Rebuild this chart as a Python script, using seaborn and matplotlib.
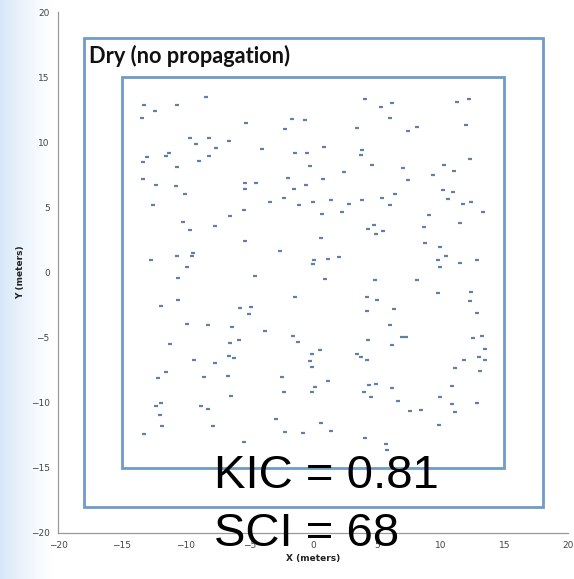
import numpy as np
import pandas as pd
import matplotlib
matplotlib.use("Agg")
import matplotlib.pyplot as plt
from matplotlib.patches import Rectangle
from matplotlib.colors import LinearSegmentedColormap
import seaborn as sns

# ---- data ----
x_vals = [
    -8.37, -13.23, -10.69, -12.37, -13.39, -5.28, -1.65, -0.60, -2.20, -9.67,
    -8.18, -9.15, -6.56, -7.63, -3.97, -12.99, -11.27, -11.56, -8.13, -1.44,
    -0.47, -13.36, -8.92, -10.67, -0.21, -13.36, -12.31, -10.77, -5.31, -4.47,
    -1.99, -5.31, -1.52, -0.52, -10.04, -12.58, -3.37, -2.30, -1.10, 0.00,
    -5.44, -6.48, -10.20, -9.62, -7.69, -5.36, -2.61, -12.71, -10.67, -9.39,
    -9.46, -9.88, 0.05, 0.03,
    4.08, 5.31, 6.22, 6.04, 3.48, 7.45, 8.18, 11.32, 12.24, 12.03,
    0.86, 3.82, 3.79, 12.34, 4.63, 2.41, 7.06, 10.25, 11.06, 9.41,
    0.76, 7.48, 10.17, 10.98, 6.46, 5.44, 10.56, 1.39, 3.84, 2.85,
    6.04, 11.76, 12.39, 13.36, 0.68, 2.25, 9.12, 4.81, 4.31, 4.92,
    5.52, 8.68, 11.50, 0.65, 8.76, 9.96, 1.20, 2.01, 10.41, 9.78,
    9.93, 11.50, 12.84,
    -10.61, -4.52, -10.59, -11.92, -1.44, -5.75, -4.89, -4.99, -9.88, -8.26,
    -6.35, -3.76, -1.57, -1.15, -11.24, -6.54, -5.78, -0.05, -0.24, -0.08,
    -6.59, -6.20, -9.31, -7.66, -11.53, -12.16, -8.58, -6.64, -2.43, -2.30,
    -0.10, 0.16, -6.43, -11.95, -12.29, -8.78, -8.21, -12.03, -11.82, -7.82,
    -2.90, -13.28, -2.17, -0.81, -5.41,
    0.94, 4.86, 8.13, 9.83, 12.39, 12.34, 4.24, 5.02, 4.21, 6.38,
    12.84, 6.04, 6.95, 7.30, 4.31, 6.20, 12.52, 13.28, 0.58, 3.48, 3.79,
    4.24, 13.46, 13.02, 13.52, 11.82, 11.16, 13.07, 1.18, 4.37, 4.94,
    4.00, 6.20, 4.55, 10.93, 6.69, 7.58, 8.47, 9.96, 10.93, 11.11,
    12.89, 0.63, 1.39, 9.88, 4.08, 5.70, 5.80,
]
y_vals = [
    13.44, 12.83, 12.83, 12.42, 11.88, 11.47, 11.75, 11.70, 11.01, 10.32,
    10.30, 9.84, 10.09, 9.55, 9.50, 8.89, 9.20, 8.92, 8.94, 9.15,
    9.15, 8.45, 8.56, 8.07, 8.15, 7.18, 6.72, 6.61, 6.87, 6.84,
    7.23, 6.41, 6.41, 6.72, 6.02, 5.21, 5.41, 5.74, 5.15, 5.44,
    4.77, 4.36, 3.88, 3.29, 3.54, 2.44, 1.68, 0.96, 1.27, 1.47,
    1.29, 0.40, 0.96, 0.65,
    13.32, 12.68, 12.98, 11.83, 11.12, 10.89, 11.14, 13.06, 13.34, 11.32,
    9.63, 9.38, 8.99, 8.74, 8.25, 7.71, 8.02, 8.28, 7.82, 7.48,
    7.18, 7.10, 6.36, 6.15, 6.05, 5.74, 5.67, 5.54, 5.56, 5.26,
    5.21, 5.28, 5.41, 4.67, 4.46, 4.67, 4.41, 3.65, 3.34, 2.98,
    3.21, 3.47, 3.77, 2.62, 2.24, 1.96, 1.04, 1.21, 1.29, 0.93,
    0.45, 0.75, 0.96,
    -0.45, -0.27, -2.09, -2.55, -1.88, -2.70, -2.67, -3.18, -3.98, -4.05,
    -4.18, -4.49, -4.87, -5.36, -5.49, -5.44, -5.21, -6.25, -6.77, -7.25,
    -6.43, -6.54, -6.74, -6.95, -7.66, -8.10, -8.02, -7.92, -8.02, -9.20,
    -9.15, -8.81, -9.48, -9.99, -10.27, -10.27, -10.45, -10.94, -11.78, -11.81,
    -11.27, -12.39, -12.27, -12.32, -13.03,
    -0.50, -0.55, -0.55, -1.60, -1.47, -2.19, -1.91, -2.11, -2.98, -2.78,
    -3.13, -4.00, -4.92, -4.92, -5.15, -5.56, -5.00, -4.85, -5.92, -6.23, -6.51,
    -6.72, -5.90, -6.51, -6.72, -6.72, -7.33, -7.56, -8.30, -8.63, -8.56,
    -9.15, -8.84, -9.58, -8.71, -9.89, -10.65, -10.58, -9.58, -10.07, -10.71,
    -10.02, -11.52, -12.14, -11.73, -12.73, -13.14, -13.60,
]

outer_half = 18
inner_half = 15
x_ticks = [-20, -15, -10, -5, 0, 5, 10, 15, 20]
y_ticks = [-20, -15, -10, -5, 0, 5, 10, 15, 20]
title_text = "Dry (no propagation)"
kic_text = "KIC = 0.81"
sci_text = "SCI = 68"
x_label = "X (meters)"
y_label = "Y (meters)"

df = pd.DataFrame({"x": x_vals, "y": y_vals})

sns.set_theme(style="white")
plt.rcParams["font.family"] = ["DejaVu Sans"]

fig = plt.figure(figsize=(5.74, 5.79), dpi=100)
fig.patch.set_facecolor("white")

# left light-blue slide background strip
bg = fig.add_axes([0, 0, 0.09, 1], zorder=-5)
grad = np.linspace(0, 1, 256).reshape(1, -1)
cmap = LinearSegmentedColormap.from_list(
    "bg", [(0.0, "#d6e6f9"), (0.3, "#e6f0fb"), (0.7, "#f6f9fe"), (1.0, "#ffffff")])
bg.imshow(grad, aspect="auto", cmap=cmap, extent=[0, 1, 0, 1])
bg.axis("off")

ax = fig.add_axes([58 / 574, 1 - 533 / 579, 510 / 574, 521 / 579])
ax.set_facecolor("none")

pt_color = "#5f80a8"
sns.scatterplot(data=df, x="x", y="y", ax=ax, marker="_", s=10,
                color=pt_color, linewidth=1.6, legend=False, zorder=3)

rect_color = "#6f9cc8"
for h in (outer_half, inner_half):
    ax.add_patch(Rectangle((-h, -h), 2 * h, 2 * h, fill=False,
                           edgecolor=rect_color, linewidth=2.0, zorder=2))

ax.set_xlim(-20, 20)
ax.set_ylim(-20, 20)
ax.set_xticks(x_ticks)
ax.set_yticks(y_ticks)
ax.tick_params(axis="both", labelsize=6.5, colors="#999999", labelcolor="#444444",
               length=4, width=0.8, direction="out", pad=2)
for s in ("top", "right"):
    ax.spines[s].set_visible(False)
for s in ("left", "bottom"):
    ax.spines[s].set_color("#999999")
    ax.spines[s].set_linewidth(0.9)

ax.set_xlabel(x_label, fontsize=6.5, fontweight="bold", labelpad=3, color="#222222")
ax.set_ylabel(y_label, fontsize=6.5, fontweight="bold", labelpad=4, color="#222222")

ax.text(-17.57, 16.1, title_text, fontsize=15.7, fontweight="bold",
        family="Lato", ha="left", va="baseline", color="#111111", zorder=4)
ax.text(-7.8, -16.54, kic_text, fontsize=34, family="Liberation Sans",
        ha="left", va="baseline", color="black", zorder=5, clip_on=False)
ax.text(-7.8, -20.99, sci_text, fontsize=34, family="Liberation Sans",
        ha="left", va="baseline", color="black", zorder=5, clip_on=False)

fig.savefig("out.png", dpi=100, facecolor="white")
